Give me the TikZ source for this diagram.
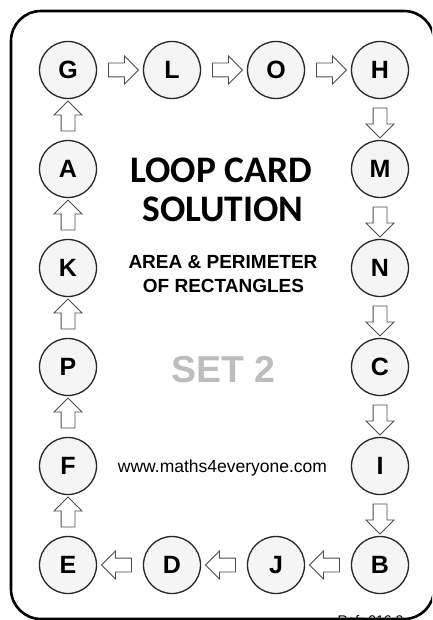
\documentclass[tikz,border=0pt]{standalone}
\usepackage{fontspec}
\setmainfont{Liberation Sans}
\newfontfamily\cardtitle{Carlito}
\usetikzlibrary{calc,shapes.arrows}

\begin{document}
\begin{tikzpicture}
        [x=1pt,y=1pt,
        letter/.style={circle,draw=black!85,fill=gray!8,line width=1.3pt,minimum size=57pt,inner sep=0pt,font=\fontsize{25}{25}\selectfont\bfseries},
        flow/.style={single arrow,draw=black!70,fill=white,line width=0.8pt,minimum height=30pt,inner sep=6.5pt,single arrow head extend=7pt},
        heading/.style={anchor=base,inner sep=0pt}]
        \useasboundingbox (0,0) rectangle (432,-620);
        \clip (0,0) rectangle (432,-620);
        \draw[line width=2.6pt,rounded corners=30pt] (11,-11) rectangle (434,-619);
        \foreach \name/\col/\row in {G/0/0,L/1/0,O/2/0,H/3/0,M/3/1,N/3/2,C/3/3,I/3/4,B/3/5,J/2/5,D/1/5,E/0/5,F/0/4,P/0/3,K/0/2,A/0/1}
            \node[letter] (\name) at (68+104*\col,-70-99*\row) {\name};
        \foreach \src/\dst/\dir in {G/L/0,L/O/0,O/H/0,H/M/-90,M/N/-90,N/C/-90,C/I/-90,I/B/-90,B/J/180,J/D/180,D/E/180,E/F/90,F/P/90,P/K/90,K/A/90,A/G/90}
            \node[flow,rotate=\dir] (\src\dst) at ($(\src)!0.5!(\dst)$) {};
        \node[heading,font=\cardtitle\fontsize{37.5}{37.5}\selectfont\bfseries] (loop) at (221,-183) {LOOP CARD};
        \node[heading,font=\cardtitle\fontsize{37.5}{37.5}\selectfont\bfseries] (solution) at (223,-222) {SOLUTION};
        \node[heading,font=\fontsize{19}{19}\selectfont\bfseries] (area) at (223,-268) {AREA \& PERIMETER};
        \node[heading,font=\fontsize{19}{19}\selectfont\bfseries] (rect) at (223.5,-292) {OF RECTANGLES};
        \node[heading,text=black!26,font=\fontsize{37.5}{37.5}\selectfont\bfseries] (set) at (223.5,-382) {SET 2};
        \node[heading,font=\fontsize{17.5}{17.5}\selectfont] (web) at (222.5,-472) {www.maths4everyone.com};
        \node[heading,font=\fontsize{14}{14}\selectfont] (ref) at (370.5,-625) {Ref: 016.2};
\end{tikzpicture}
\end{document}
